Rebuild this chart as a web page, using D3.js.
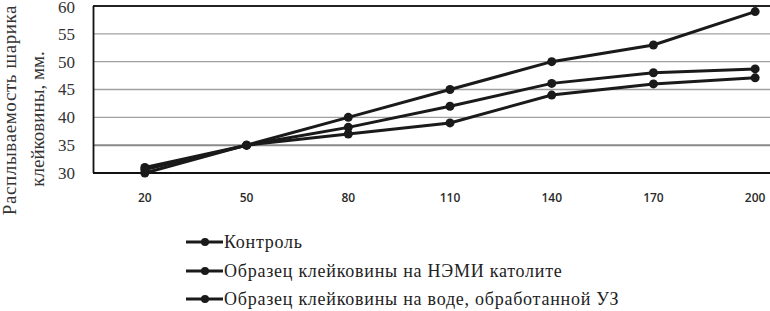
<!DOCTYPE html>
<html>
<head>
<meta charset="utf-8">
<script src="https://d3js.org/d3.v7.min.js"></script>
<style>
  body { margin: 0; background: #fff; }
</style>
</head>
<body>
<script>
// chart data
var categories = ["20", "50", "80", "110", "140", "170", "200"];
var yTicks = [30, 35, 40, 45, 50, 55, 60];
var seriesNames = [
  "Контроль",
  "Образец клейковины на НЭМИ католите",
  "Образец клейковины на воде, обработанной УЗ"
];
var control = [30, 35, 40, 45, 50, 53, 59];
var katolit = [31, 35, 38.2, 42, 46.1, 48, 48.7];
var uzWater = [30.6, 35, 37, 39, 44, 46, 47.1];

var seriesValues = [control, katolit, uzWater];

var W = 770, H = 311;
var svg = d3.select("body").append("svg")
  .attr("width", W).attr("height", H);

var x = d3.scalePoint().domain(categories).range([94, 806]).padding(0.5);
var y = d3.scaleLinear().domain([30, 60]).range([173, 6]);

// grid lines
svg.append("g").selectAll("line")
  .data(yTicks.slice(1, -1))
  .enter().append("line")
  .attr("x1", 94).attr("x2", W)
  .attr("y1", function(d) { return y(d); })
  .attr("y2", function(d) { return y(d); })
  .attr("stroke", function(d) { return d == 35 ? "#8a8a8a" : "#a0a0a0"; })
  .attr("stroke-width", function(d) { return d == 35 ? 2 : 1.3; });

// frame: top, bottom, left
svg.append("line").attr("x1", 93).attr("x2", W).attr("y1", y(60)).attr("y2", y(60))
  .attr("stroke", "#222").attr("stroke-width", 1.8);
svg.append("line").attr("x1", 93).attr("x2", W).attr("y1", y(30)).attr("y2", y(30))
  .attr("stroke", "#111").attr("stroke-width", 1.8);
svg.append("line").attr("x1", 93.5).attr("x2", 93.5).attr("y1", y(60)).attr("y2", y(30))
  .attr("stroke", "#111").attr("stroke-width", 1.8);

// y tick labels
svg.append("g").selectAll("text")
  .data(yTicks)
  .enter().append("text")
  .attr("x", 75)
  .attr("y", function(d) { return d == 60 ? y(d) + 1 : y(d); })
  .attr("dy", "0.35em")
  .attr("text-anchor", "end")
  .attr("font-family", "Liberation Serif, serif")
  .attr("font-size", 17)
  .attr("fill", "#333")
  .text(function(d) { return d; });

// x tick labels
svg.append("g").selectAll("text")
  .data(categories)
  .enter().append("text")
  .attr("x", function(d) { return x(d); })
  .attr("y", 202)
  .attr("text-anchor", "middle")
  .attr("font-family", "Open Sans, sans-serif")
  .attr("font-size", 12)
  .attr("font-weight", 600)
  .attr("fill", "#2a2a2a")
  .text(function(d) { return d; });

// y axis title
svg.append("text")
  .attr("transform", "translate(16,110) rotate(-90)")
  .attr("text-anchor", "middle")
  .attr("font-family", "Liberation Serif, serif")
  .attr("font-size", 19)
  .attr("letter-spacing", 0.6)
  .attr("fill", "#333")
  .text("Расплываемость шарика");
svg.append("text")
  .attr("transform", "translate(44,119) rotate(-90)")
  .attr("text-anchor", "middle")
  .attr("font-family", "Liberation Serif, serif")
  .attr("font-size", 19)
  .attr("fill", "#333")
  .text("клейковины, мм.");

// series
var line = d3.line()
  .x(function(d, i) { return x(categories[i]); })
  .y(function(d) { return y(d); });

seriesValues.forEach(function(vals) {
  svg.append("path")
    .datum(vals)
    .attr("d", line)
    .attr("fill", "none")
    .attr("stroke", "#1a1a1a")
    .attr("stroke-width", 3);
  svg.append("g").selectAll("circle")
    .data(vals)
    .enter().append("circle")
    .attr("cx", function(d, i) { return x(categories[i]); })
    .attr("cy", function(d) { return y(d); })
    .attr("r", 4.5)
    .attr("fill", "#1a1a1a");
});

// legend
var legendY = [242, 271, 299];
var lg = svg.append("g").selectAll("g")
  .data(seriesNames)
  .enter().append("g")
  .attr("transform", function(d, i) { return "translate(0," + legendY[i] + ")"; });
lg.append("line")
  .attr("x1", 186).attr("x2", 223)
  .attr("stroke", "#1a1a1a").attr("stroke-width", 3);
lg.append("circle").attr("cx", 205).attr("r", 4).attr("fill", "#1a1a1a");
lg.append("text")
  .attr("x", 224)
  .attr("dy", "0.35em")
  .attr("font-family", "Liberation Serif, serif")
  .attr("font-size", 18)
  .attr("letter-spacing", 0.75)
  .attr("fill", "#222")
  .text(function(d) { return d; });
</script>
</body>
</html>
